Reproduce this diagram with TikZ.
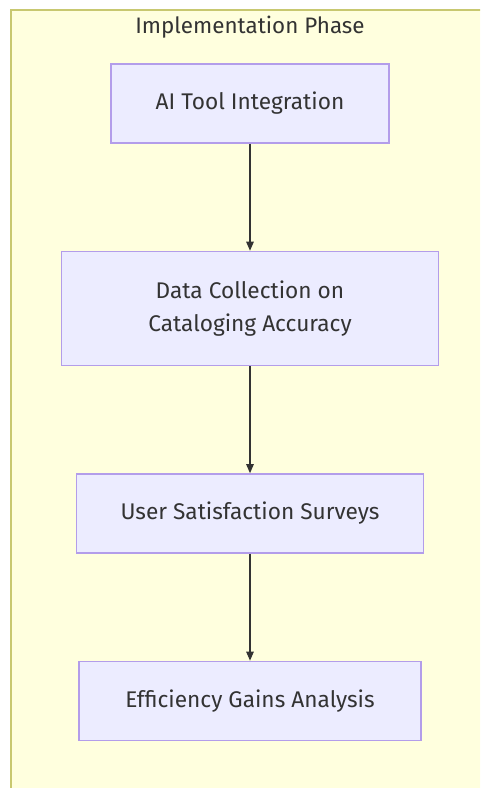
\documentclass[tikz,border=0pt]{standalone}
\usepackage{fontspec}
\setmainfont{Fira Sans}
\usepackage{tikz}
\usetikzlibrary{arrows.meta,positioning}
\definecolor{ink}{HTML}{333333}
\definecolor{clusterfill}{HTML}{FFFFDE}
\definecolor{clusterline}{HTML}{C8C870}
\definecolor{boxfill}{HTML}{ECECFF}
\definecolor{boxline}{HTML}{B39DEA}
\tikzset{
  >={Triangle[length=2.4mm,width=2mm]},
  cluster/.style={draw=clusterline,fill=clusterfill,line width=1.1pt},
  stage/.style={draw=boxline,fill=boxfill,line width=1.1pt,align=center,
    text=ink,font=\fontsize{17}{24.75}\selectfont,inner sep=0pt,minimum height=59.25pt},
  flow/.style={->,line width=.8pt,color=ink},
}
\begin{document}
\begin{tikzpicture}[x=0.75pt,y=-0.75pt,node distance=80.25pt]
  \useasboundingbox (0,0) rectangle (480,788);
  \begin{scope}
    \clip (0,0) rectangle (480,788);
    \draw[cluster] (11,10) rectangle (500,810);
  \end{scope}
  \node[text=ink,font=\fontsize{16.8}{20}\selectfont] (phase) at (250,27) {Implementation Phase};
  \node[stage,minimum width=208.5pt] (integrate) at (250,103.5) {AI Tool Integration};
  \node[stage,minimum width=282.75pt,minimum height=85.5pt,below=of integrate] (collect) {Data Collection on\\Cataloging Accuracy};
  \node[stage,minimum width=260.25pt,below=of collect] (survey) {User Satisfaction Surveys};
  \node[stage,minimum width=256.5pt,below=of survey] (gains) {Efficiency Gains Analysis};
  \draw[flow] (integrate)--(collect); \draw[flow] (collect)--(survey); \draw[flow] (survey)--(gains);
\end{tikzpicture}
\end{document}
